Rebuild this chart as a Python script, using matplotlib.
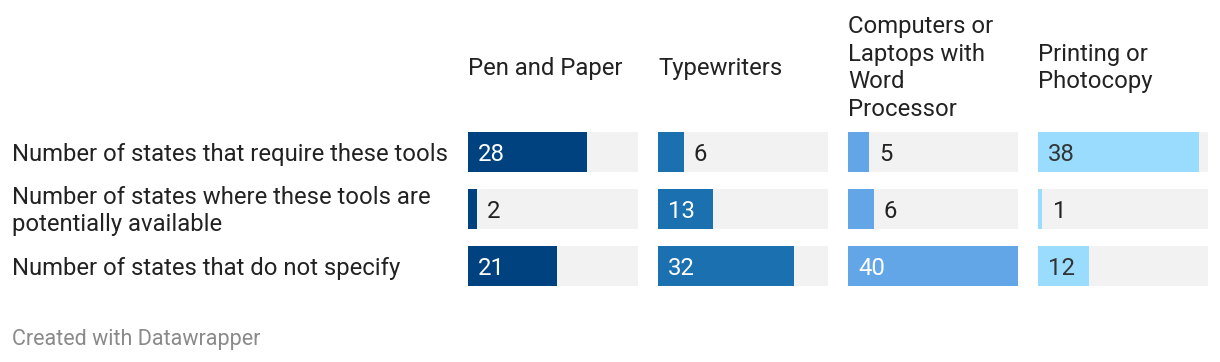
import matplotlib.pyplot as plt
import matplotlib.transforms as mtransforms

plt.rcParams['font.family'] = ['Roboto', 'DejaVu Sans']

# -----------------------
# Data
# -----------------------

rows = [
    "Number of states that require these tools",
    "Number of states where these tools are\npotentially available",
    "Number of states that do not specify",
]

tools = [
    "Pen and Paper",
    "Typewriters",
    "Computers or\nLaptops with\nWord\nProcessor",
    "Printing or\nPhotocopy",
]

pen_paper = [28, 2, 21]
typewriters = [6, 13, 32]
computers = [5, 6, 40]
printing = [38, 1, 12]

values = [pen_paper, typewriters, computers, printing]

colors = ["#00427f", "#1b70b0", "#62a6e8", "#99dcfe"]
label_colors = ["white", "white", "white", "#333333"]
max_value = 40

# -----------------------
# Layout (pixels)
# -----------------------

W, H = 1220, 362
fig = plt.figure(figsize=(W / 100, H / 100), dpi=100)

panel_left = 468
panel_width = 170
panel_step = 190
top, bottom = 132, 286
row_step = 57
bar_h = 40 / row_step
fs = 17.2

# nudge text down a little (Roboto's bbox centre sits high)
nudge = mtransforms.ScaledTranslation(0, -1.5 / 72, fig.dpi_scale_trans)

ypos = list(range(len(rows)))

for i, (tool, vals) in enumerate(zip(tools, values)):
    left = panel_left + i * panel_step
    ax = fig.add_axes([left / W, 1 - bottom / H, panel_width / W, (bottom - top) / H])
    ax.barh(ypos, [max_value] * len(ypos), height=bar_h, color="#f2f2f2")
    ax.barh(ypos, vals, height=bar_h, color=colors[i])
    ax.set_xlim(0, max_value)
    ax.set_ylim(len(rows) - 1 + bar_h / 2, -bar_h / 2)
    ax.axis("off")

    for y, v in zip(ypos, vals):
        if v < 10:
            ax.annotate(str(v), (v, y), xytext=(7.5, -1.5), textcoords="offset points",
                        ha="left", va="center", fontsize=fs, color="#222222")
        else:
            ax.annotate(str(v), (0, y), xytext=(7.2, -1.5), textcoords="offset points",
                        ha="left", va="center", fontsize=fs, color=label_colors[i])

    fig.text(left / W, 1 - 66 / H, tool, ha="left", va="center",
             fontsize=fs, color="#222222", linespacing=1.26,
             transform=fig.transFigure + nudge)

    if i == 0:
        trans = mtransforms.blended_transform_factory(fig.transFigure, ax.transData)
        for y, r in zip(ypos, rows):
            ax.text(12 / W, y, r, transform=trans + nudge, ha="left", va="center",
                    fontsize=fs, color="#222222", linespacing=1.26)

fig.text(12 / W, 1 - 339 / H, "Created with Datawrapper", ha="left", va="center",
         fontsize=15.5, color="#8a8a8a")

fig.savefig("out.png", dpi=100, facecolor="white")
